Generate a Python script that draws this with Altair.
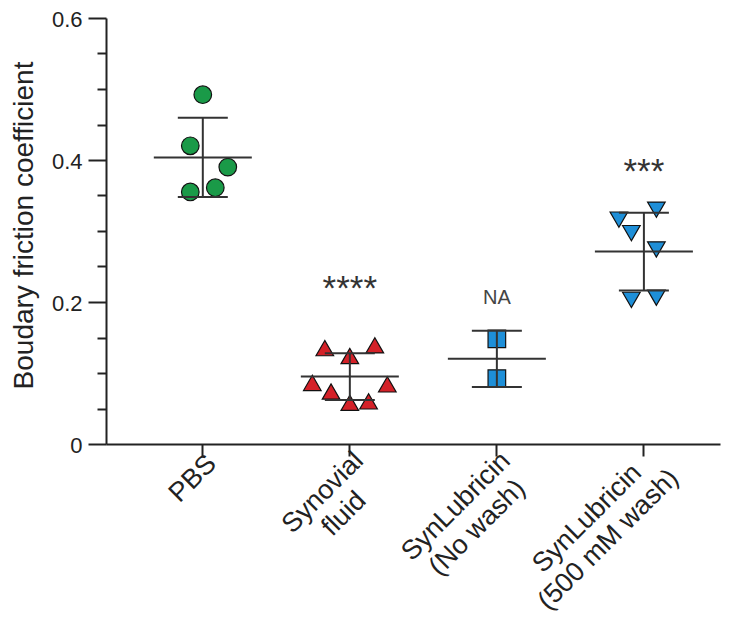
import json
import altair as alt
import pandas as pd

# ---------------- data ----------------
categories = ["PBS", "Synovial fluid", "SynLubricin (No wash)", "SynLubricin (500 mM wash)"]
label_lines = [["PBS"], ["Synovial", "fluid"], ["SynLubricin", "(No wash)"], ["SynLubricin", "(500 mM wash)"]]
shapes = ["circle", "triangle-up", "square", "triangle-down"]
colors = ["#1a9a48", "#d42128", "#1e8fd8", "#1e8fd8"]

pbs_values = [0.492, 0.420, 0.390, 0.361, 0.355]
pbs_jitter = [0, -1, 2, 1, -1]
sf_values = [0.135, 0.139, 0.124, 0.086, 0.074, 0.084, 0.058, 0.060]
sf_jitter = [-2, 2, 0, -3, -1.5, 3, 0, 1.5]
nw_values = [0.148, 0.092]
nw_jitter = [0, 0]
w500_values = [0.330, 0.316, 0.297, 0.274, 0.203, 0.206]
w500_jitter = [1, -2, -1, 1, -1, 1]

sig_groups = ["Synovial fluid", "SynLubricin (No wash)", "SynLubricin (500 mM wash)"]
sig_text = ["****", "NA", "***"]
sig_y = [0.229, 0.206, 0.395]

y_ticks = [0, 0.05, 0.1, 0.15, 0.2, 0.25, 0.3, 0.35, 0.4, 0.45, 0.5, 0.55, 0.6]

# ---------------- tables ----------------
rows = []
for g, vals, jit in zip(categories, [pbs_values, sf_values, nw_values, w500_values],
                        [pbs_jitter, sf_jitter, nw_jitter, w500_jitter]):
    for v, j in zip(vals, jit):
        rows.append({"group": g, "value": v, "jitter": j})
points_df = pd.DataFrame(rows)
sig_df = pd.DataFrame({"group": sig_groups, "text": sig_text, "y": sig_y})

# ---------------- scales / axes ----------------
FONT = "Liberation Sans"
INK = "#222222"
XLAB_SIZE = 27
LABEL_SHIFT = [-6, -9, -9, -13]   # fine vertical nudge of each rotated label block

# Arial/Liberation Sans advance widths (per 1000 em) for label-length estimates
W = {"P": 667, "B": 667, "S": 667, "y": 500, "n": 556, "o": 556, "v": 500, "i": 222,
     "a": 556, "l": 222, "f": 278, "u": 556, "d": 556, "L": 556, "b": 556, "r": 333,
     "c": 500, "(": 333, ")": 333, "N": 722, " ": 278, "w": 722, "s": 500, "h": 556,
     "5": 556, "0": 556, "m": 833, "M": 833}


def text_len(s):
    return sum(W.get(ch, 556) for ch in s) / 1000 * XLAB_SIZE


label_expr = ""
offset_conds = []
pad_conds = []
for c, lines, shift in zip(categories, label_lines, LABEL_SHIFT):
    label_expr += f"datum.label == {json.dumps(c)} ? {json.dumps(lines)} : "
    half = max(text_len(s) for s in lines) / 2 * 0.7071
    test = f"datum.label == {json.dumps(c)}"
    offset_conds.append({"test": test, "value": round(0 - half, 1)})
    pad_conds.append({"test": test, "value": round(half + shift, 1)})
label_expr += "datum.label"

x_scale = alt.Scale(domain=categories, paddingInner=0, paddingOuter=0.088, align=0.9)
x_axis = alt.Axis(title=None, labelAngle=-45, labelAlign="center", labelBaseline="top",
                  labelFontSize=XLAB_SIZE, labelFont=FONT, labelColor=INK, labelExpr=label_expr,
                  labelOverlap=False, labelLineHeight=30, labelLimit=400,
                  labelOffset={"condition": offset_conds, "value": 0},
                  labelPadding={"condition": pad_conds, "value": 0},
                  tickSize=12, tickWidth=2, tickColor=INK, domainWidth=2, domainColor=INK)

major = "abs(datum.value*5 - round(datum.value*5)) < 0.001"
y_scale = alt.Scale(domain=[0, 0.6], nice=False, zero=True)
y_axis = alt.Axis(values=y_ticks, title="Boudary friction coefficient", titleFontSize=28,
                  titleFont=FONT, titleFontWeight="normal", titleColor=INK,
                  titleAngle=-90, titleX=-74, titleY=207, titleAlign="center",
                  titleBaseline="alphabetic",
                  labelExpr=f"{major} ? (datum.value == 0 ? '0' : format(datum.value, '.1f')) : ''",
                  labelFontSize=22, labelFont=FONT, labelColor=INK, labelPadding=6,
                  labelOffset=1,
                  tickSize={"condition": {"test": major, "value": 18}, "value": 9},
                  tickWidth=2, tickColor=INK, domainWidth=2, domainColor=INK, grid=False)

X = alt.X("group:N", scale=x_scale, axis=x_axis)

points = alt.Chart(points_df).mark_point(filled=True, opacity=1, stroke="#111111",
                                         strokeWidth=1.2, size=310).encode(
    x=X,
    xOffset=alt.XOffset("jitter:Q", scale=alt.Scale(domain=[-5.88, 5.88], range=[0, 147])),
    y=alt.Y("value:Q", scale=y_scale, axis=y_axis),
    shape=alt.Shape("group:N", scale=alt.Scale(domain=categories, range=shapes), legend=None),
    fill=alt.Fill("group:N", scale=alt.Scale(domain=categories, range=colors), legend=None),
)

stats = alt.Chart(points_df).transform_aggregate(
    mean="mean(value)", sd="stdev(value)", groupby=["group"]
).transform_calculate(lo="datum.mean - datum.sd", hi="datum.mean + datum.sd")

bar_col = "#333333"
rule = stats.mark_rule(color=bar_col, strokeWidth=2).encode(
    x=X, y=alt.Y("lo:Q", scale=y_scale, axis=y_axis), y2="hi:Q")
mean_tick = stats.mark_tick(color=bar_col, thickness=2, size=98, opacity=1).encode(
    x=X, y=alt.Y("mean:Q", scale=y_scale, axis=y_axis))
lo_tick = stats.mark_tick(color=bar_col, thickness=2, size=50, opacity=1).encode(
    x=X, y=alt.Y("lo:Q", scale=y_scale, axis=y_axis))
hi_tick = stats.mark_tick(color=bar_col, thickness=2, size=50, opacity=1).encode(
    x=X, y=alt.Y("hi:Q", scale=y_scale, axis=y_axis))

sig_base = alt.Chart(sig_df).encode(
    x=X, y=alt.Y("y:Q", scale=y_scale, axis=y_axis), text="text:N")
stars = sig_base.transform_filter("datum.text != 'NA'").mark_text(
    font=FONT, fontSize=35, color="#333333", baseline="middle", dy=8)
na = sig_base.transform_filter("datum.text == 'NA'").mark_text(
    font=FONT, fontSize=20, color="#444444", baseline="middle")

chart = alt.layer(points, rule, mean_tick, lo_tick, hi_tick, stars, na).properties(
    width=614, height=426,
    autosize=alt.AutoSizeParams(type="none"),
    padding={"left": 98, "top": 10, "right": 22, "bottom": 170},
    background="white",
).configure_view(stroke=None)

chart.save("out.html", embed_options={"renderer": "svg", "actions": False})
